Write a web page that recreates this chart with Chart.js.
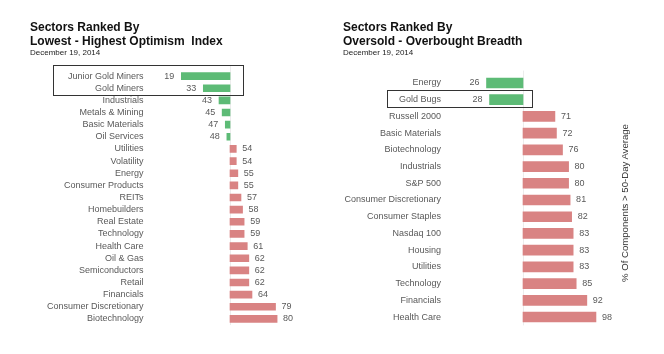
<!DOCTYPE html>
<html>
<head>
<meta charset="utf-8">
<script src="https://cdn.jsdelivr.net/npm/chart.js@4.4.1/dist/chart.umd.min.js"></script>
<style>
    body { margin: 0; background: #fff; font-family: "Liberation Sans", Arial, sans-serif; }
    #wrap { position: relative; width: 664px; height: 354px; overflow: hidden; }
    canvas { position: absolute; top: 0; }
    .title { position: absolute; font-weight: bold; font-size: 12px; line-height: 14px; color: #111; white-space: nowrap; }
    .date { position: absolute; font-size: 8px; line-height: 10px; color: #222; white-space: nowrap; }
    #yTitle { position: absolute; left: 525px; top: 197px; width: 200px; text-align: center;
              font-size: 9.6px; line-height: 12px; color: #333; transform: rotate(-90deg); white-space: nowrap; }
</style>
</head>
<body>
<div id="wrap">
    <canvas id="leftChart" width="330" height="354" style="left:0"></canvas>
    <canvas id="rightChart" width="334" height="354" style="left:330px"></canvas>

    <div class="title" style="left:30px;top:20px">Sectors Ranked By<br>Lowest - Highest Optimism&nbsp; Index</div>
    <div class="date" style="left:30px;top:48px">December 19, 2014</div>

    <div class="title" style="left:343px;top:20px">Sectors Ranked By<br>Oversold - Overbought Breadth</div>
    <div class="date" style="left:343px;top:48px">December 19, 2014</div>

    <div id="yTitle">% Of Components &gt; 50-Day Average</div>
</div>
<script>
// Данные: левый график (индекс оптимизма)
const optimismSectors = ['Junior Gold Miners', 'Gold Miners', 'Industrials', 'Metals & Mining', 'Basic Materials',
    'Oil Services', 'Utilities', 'Volatility', 'Energy', 'Consumer Products', 'REITs', 'Homebuilders',
    'Real Estate', 'Technology', 'Health Care', 'Oil & Gas', 'Semiconductors', 'Retail', 'Financials',
    'Consumer Discretionary', 'Biotechnology'];
const optimismValues = [19, 33, 43, 45, 47, 48, 54, 54, 55, 55, 57, 58, 59, 59, 61, 62, 62, 62, 64, 79, 80];

// Данные: правый график (перепроданность / перекупленность)
const breadthSectors = ['Energy', 'Gold Bugs', 'Russell 2000', 'Basic Materials', 'Biotechnology', 'Industrials',
    'S&P 500', 'Consumer Discretionary', 'Consumer Staples', 'Nasdaq 100', 'Housing', 'Utilities',
    'Technology', 'Financials', 'Health Care'];
const breadthValues = [26, 28, 71, 72, 76, 80, 80, 81, 82, 83, 83, 83, 85, 92, 98];

const midValue = 50;
const GREEN = '#5dbb76';
const RED = '#d98383';
const TEXT = '#595959';
const FONT = '"Liberation Sans", Arial, sans-serif';

// Подписи значений, линия на 50 и рамка вокруг выделенных строк
const extrasPlugin = {
    id: 'extras',
    beforeDatasetsDraw(chart, args, opts) {
        const ctx = chart.ctx;
        const x = chart.scales.x.getPixelForValue(midValue);
        ctx.save();
        ctx.strokeStyle = '#ececec';
        ctx.lineWidth = 1;
        ctx.beginPath();
        ctx.moveTo(Math.round(x) + 0.5, chart.chartArea.top - 4);
        ctx.lineTo(Math.round(x) + 0.5, chart.chartArea.bottom);
        ctx.stroke();
        ctx.restore();
    },
    afterDatasetsDraw(chart, args, opts) {
        const ctx = chart.ctx;
        const xs = chart.scales.x;
        const ys = chart.scales.y;
        const values = opts.values;
        ctx.save();
        ctx.font = '9px ' + FONT;
        ctx.fillStyle = TEXT;
        ctx.textBaseline = 'middle';
        values.forEach((v, i) => {
            const y = ys.getPixelForValue(i);
            const x = xs.getPixelForValue(v);
            if (v < midValue) {
                ctx.textAlign = 'right';
                ctx.fillText(v, x - 7, y);
            } else {
                ctx.textAlign = 'left';
                ctx.fillText(v, x + 6, y);
            }
        });

        // рамка
        const b = opts.box;
        const top = ys.getPixelForValue(b.from) - b.above;
        const bottom = ys.getPixelForValue(b.to) + b.below;
        ctx.strokeStyle = '#333';
        ctx.lineWidth = 1;
        ctx.strokeRect(b.x0 + 0.5, Math.round(top) + 0.5, b.x1 - b.x0, Math.round(bottom - top));
        ctx.restore();
    }
};

function makeChart(canvasId, labels, values, cfg) {
    return new Chart(document.getElementById(canvasId), {
        type: 'bar',
        data: {
            labels: labels,
            datasets: [{
                data: values.map(v => [midValue, v]),
                backgroundColor: values.map(v => v < midValue ? GREEN : RED),
                barThickness: cfg.thickness,
                borderWidth: 0
            }]
        },
        options: {
            indexAxis: 'y',
            responsive: false,
            animation: false,
            layout: { padding: cfg.padding },
            scales: {
                x: { display: false, min: 0, max: 100 },
                y: {
                    grid: { display: false, drawTicks: false },
                    border: { display: false },
                    ticks: { color: TEXT, font: { size: 9, family: FONT }, padding: cfg.tickPad, autoSkip: false },
                    afterFit: s => { s.width = cfg.axisWidth; }
                }
            },
            plugins: {
                legend: { display: false },
                tooltip: { enabled: false },
                extras: { values: values, box: cfg.box }
            }
        },
        plugins: [extrasPlugin]
    });
}

makeChart('leftChart', optimismSectors, optimismValues, {
    thickness: 7,
    padding: { top: 70, bottom: 29, left: 0, right: 21.5 },
    axisWidth: 151.5,
    tickPad: 8,
    box: { from: 0, to: 1, above: 11, below: 6.5, x0: 53, x1: 243 }
});

makeChart('rightChart', breadthSectors, breadthValues, {
    thickness: 10,
    padding: { top: 74.6, bottom: 28.6, left: 0, right: 65 },
    axisWidth: 117,
    tickPad: 6,
    box: { from: 1, to: 1, above: 10, below: 7, x0: 57, x1: 202 }
});
</script>
</body>
</html>
